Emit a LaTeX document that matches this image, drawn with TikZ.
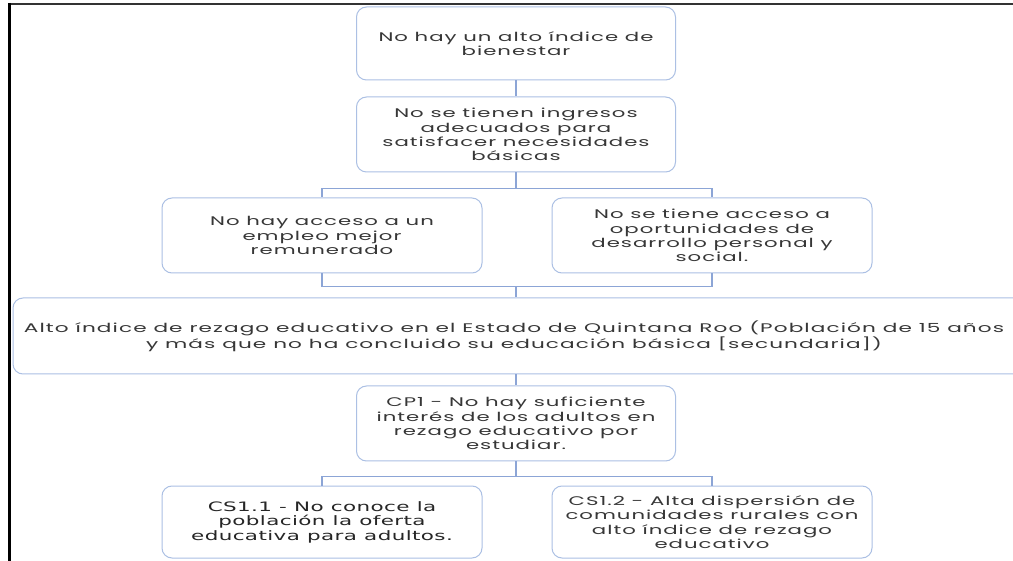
\documentclass[tikz,border=0pt]{standalone}
\usepackage{fontspec}
\newfontfamily\boxfont{Poppins}[FakeStretch=1.7,LetterSpace=8]
\newfontfamily\widefont{Poppins}[FakeStretch=1.73,LetterSpace=8.7]
\newfontfamily\darkfont{DejaVu Sans}[FakeStretch=1.65,LetterSpace=3]
\definecolor{boxline}{RGB}{172,192,228}
\definecolor{connline}{RGB}{140,165,214}
\definecolor{txt}{RGB}{55,55,55}
\tikzset{
  cbox/.style={draw=boxline, line width=1pt, fill=white, rounded corners=10pt,
    align=center, inner sep=0pt, text=txt,
    font=\boxfont\fontsize{12.5}{14.3}\selectfont},
  conn/.style={draw=connline, line width=1.5pt},
  frame/.style={draw=black}
}
\begin{document}
\begin{tikzpicture}[x=1pt,y=-1pt]
\useasboundingbox (0,0) rectangle (1013,561);
\clip (0,0) rectangle (1013,561);
\fill[white] (0,0) rectangle (1013,561);
% frame
\draw[frame, line width=2pt, draw=black!80] (9,4) -- (1013,4);
\draw[frame, line width=3pt] (9.5,3) -- (9.5,561);
% boxes
\node[cbox, minimum width=319pt, minimum height=73pt] (top) at (516,43.5) {No hay un alto índice de\\bienestar};
\node[cbox, minimum width=319pt, minimum height=75pt] (inc) at (516,134.5) {No se tienen ingresos\\adecuados para\\satisfacer necesidades\\básicas};
\node[cbox, minimum width=320pt, minimum height=75pt] (emp) at (322,235.5) {No hay acceso a un\\empleo mejor\\remunerado};
\node[cbox, minimum width=320pt, minimum height=75pt] (opp) at (712,235.5) {No se tiene acceso a\\oportunidades de\\desarrollo personal y\\social.};
\node[cbox, minimum width=1034pt, minimum height=76pt, font=\widefont\fontsize{12.5}{14.3}\selectfont] (big) at (530,336) {\hspace*{-32pt}Alto índice de rezago educativo en el Estado de Quintana Roo (Población de 15 años\\\hspace*{-32pt}y más que no ha concluido su educación básica [secundaria])};
\node[cbox, minimum width=319pt, minimum height=75pt] (cp1) at (516,423.5) {CP1 - No hay suficiente\\interés de los adultos en\\rezago educativo por\\estudiar.};
\node[cbox, minimum width=320pt, minimum height=72pt, text=black!85, font=\darkfont\fontsize{13}{14.5}\selectfont] (cs11) at (322,522) {CS1.1 - No conoce la\\población la oferta\\educativa para adultos.};
\node[cbox, minimum width=320pt, minimum height=72pt] (cs12) at (712,522) {CS1.2 - Alta dispersión de\\comunidades rurales con\\alto índice de rezago\\educativo};
% connectors
\draw[conn] (top.south) -- (inc.north);
\path (inc.south) -- ++(0,16) coordinate (b1);
\draw[conn] (inc.south) -- (b1);
\draw[conn] (b1) -| (emp.north);
\draw[conn] (b1) -| (opp.north);
\path (emp.south) -- ++(0,13) coordinate (b2l);
\path (opp.south) -- ++(0,13) coordinate (b2r);
\coordinate (b2) at (b2l -| top.south);
\draw[conn] (emp.south) |- (b2r) -- (opp.south);
\draw[conn] (b2) -- (b2 |- big.north);
\draw[conn] (b2 |- big.south) -- (cp1.north);
\path (cp1.south) -- ++(0,15) coordinate (b3);
\draw[conn] (cp1.south) -- (b3);
\draw[conn] (b3) -| (cs11.north);
\draw[conn] (b3) -| (cs12.north);
\end{tikzpicture}
\end{document}
